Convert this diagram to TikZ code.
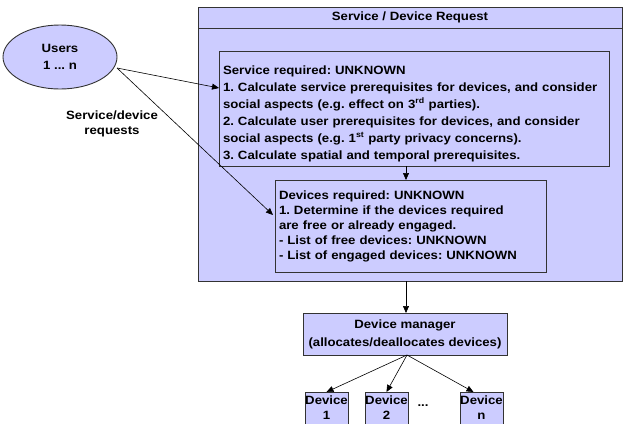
\documentclass[tikz,border=0pt]{standalone}
\usepackage{fontspec}
\setmainfont{Liberation Sans}[FakeStretch=1.1]
\usetikzlibrary{arrows.meta,shapes.geometric}
\definecolor{lav}{HTML}{CCCCFF}
\definecolor{edge}{HTML}{333333}
\frenchspacing
\begin{document}
\begin{tikzpicture}[x=1pt,y=-1pt,
  box/.style={draw=edge, line width=0.9pt, fill=lav, inner sep=0pt, outer sep=0pt},
  txt/.style={font=\bfseries\fontsize{12}{17}\selectfont},
  devbox/.style={box, minimum width=43pt, minimum height=40pt, anchor=north, align=center,
    font=\bfseries\fontsize{12}{15}\selectfont},
  arr/.style={draw=black, line width=0.6pt, -{Triangle[length=7pt,width=6pt]}}]
\useasboundingbox (0,0) rectangle (626,423);
\fill[white] (0,0) rectangle (626,423);
% outer box
\node[box, minimum width=424pt, minimum height=274pt, anchor=north west] (outer) at (198,7) {};
\coordinate (tl) at (198,28);
\coordinate (tr) at (622,28);
\draw[draw=edge, line width=0.9pt] (tl) -- (tr);
\node[txt] (title) at (410,17.5) {Service / Device Request};
% users
\node[box, ellipse, minimum width=114pt, minimum height=64pt, txt, align=center] (users) at (60,57) {Users\\1 ... n};
\coordinate (uout) at (117,68);
\node[align=center, font=\bfseries\fontsize{12}{15}\selectfont] (lbl) at (112,124) {Service/device\\requests};
% service box
\node[box, minimum width=390pt, minimum height=115pt, text width=382pt, align=left, anchor=north west, txt] (svc) at (219,51)
{\rule{0pt}{19pt}Service required: UNKNOWN\\
1. Calculate service prerequisites for devices, and consider\\
social aspects (e.g. effect on 3\textsuperscript{rd} parties).\\
2. Calculate user prerequisites for devices, and consider\\
social aspects (e.g. 1\textsuperscript{st} party privacy concerns).\\
3. Calculate spatial and temporal prerequisites.};
% devices box
\node[box, minimum width=271pt, minimum height=92pt, text width=263pt, align=left, anchor=north west,
  font=\bfseries\fontsize{12}{15}\selectfont] (dev) at (275,180)
{Devices required: UNKNOWN\\
1. Determine if the devices required\\
are free or already engaged.\\
- List of free devices: UNKNOWN\\
- List of engaged devices: UNKNOWN};
% device manager
\node[box, minimum width=204pt, minimum height=42pt, align=center,
  font=\bfseries\fontsize{12}{18}\selectfont] (mgr) at (405,334)
{Device manager\\(allocates/deallocates devices)};
% devices
\node[devbox] (d1) at (326.5,392) {Device\\1\rule[-8pt]{0pt}{8pt}};
\node[devbox] (d2) at (386.5,392) {Device\\2\rule[-8pt]{0pt}{8pt}};
\node[devbox] (dn) at (481.5,392) {Device\\n\rule[-8pt]{0pt}{8pt}};
\node[txt] (dots) at (423,406) {...};
% arrows
\coordinate (svcin) at (219,88);
\coordinate (devin) at (273,215);
\draw[arr] (uout) -- (svcin);
\draw[arr] (uout) -- (devin);
\draw[arr] (svc.south -| 406,0) -- (dev.north -| 406,0);
\draw[arr] (outer.south -| 406,0) -- (mgr.north -| 406,0);
\coordinate (mo) at (407,355);
\draw[arr] (mo) -- (d1.north);
\draw[arr] (mo) -- (d2.north);
\draw[arr] (mo) -- ([xshift=-8pt]dn.north);
\end{tikzpicture}
\end{document}
